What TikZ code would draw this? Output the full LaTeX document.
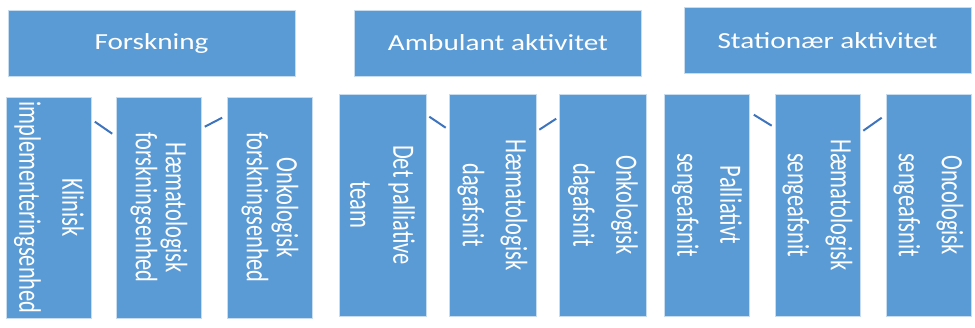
\documentclass[tikz,border=0pt]{standalone}
\usepackage{fontspec}
\usetikzlibrary{calc}
\newfontfamily\headfont[FakeStretch=1.27]{Carlito}
\newfontfamily\unitfont[FakeStretch=0.725]{Carlito}
\definecolor{boxblue}{RGB}{91,155,213}
\definecolor{edgeblue}{RGB}{200,220,240}
\definecolor{linkblue}{RGB}{62,116,189}
\tikzset{
  head/.style={draw=edgeblue, fill=boxblue, text=white, line width=0.6pt,
    minimum width=287pt, minimum height=66pt, inner sep=0pt,
    font=\headfont\fontsize{23pt}{28pt}\selectfont},
  unit/.style={draw=edgeblue, fill=boxblue, line width=0.6pt,
    minimum width=85pt, minimum height=222pt, inner sep=0pt},
  unittext/.style={text=white, rotate=-90, align=center, inner sep=0pt,
    font=\unitfont\fontsize{31pt}{43pt}\selectfont},
  unittight/.style={unittext, font=\unitfont\fontsize{31pt}{30pt}\selectfont},
  link/.style={draw=linkblue, line width=2pt}
}
\begin{document}
\begin{tikzpicture}[x=1pt,y=-1pt]
\useasboundingbox (0,0) rectangle (975,327);
% headers
\node [head] (forsk) at (151.5,43) {Forskning};
\node [head] (amb) at (498,43) {Ambulant aktivitet};
\node [head] (stat) at (827.5,40.5) {Stationær aktivitet};
% forskning
\node [unit, minimum height=221pt] (k1) at (49,207.5) {};
\node [unit, minimum height=221pt] (k2) at (159,207.5) {};
\node [unit, minimum height=221pt] (k3) at (270,207.5) {};
\node [unittext] (k1t) at (k1) {Klinisk\\implementeringsenhed};
\node [unittight] (k2t) at (k2) {Hæmatologisk\\forskningsenhed};
\node [unittight] (k3t) at (k3) {Onkologisk\\forskningsenhed};
% ambulant
\node [unit, minimum width=87pt] (a1) at (382.5,205) {};
\node [unit, minimum width=87pt] (a2) at (492.5,205) {};
\node [unit, minimum width=87pt] (a3) at (603,205) {};
\node [unittext] (a1t) at (a1) {Det palliative\\team};
\node [unittext] (a2t) at (a2) {Hæmatologisk\\dagafsnit};
\node [unittext] (a3t) at (a3) {Onkologisk\\dagafsnit};
% stationaer
\node [unit] (s1) at (707,205) {};
\node [unit] (s2) at (817.5,205) {};
\node [unit] (s3) at (928.5,205) {};
\node [unittext] (s1t) at (s1) {Palliativt\\sengeafsnit};
\node [unittext] (s2t) at (s2) {Hæmatologisk\\sengeafsnit};
\node [unittext] (s3t) at (s3) {Oncologisk\\sengeafsnit};
% links between units
\draw [link] ($(k1.north east)+(3,25)$) -- ($(k2.north west)+(-4,37)$);
\draw [link] ($(k2.north east)+(3,30)$) -- ($(k3.north west)+(-5,21)$);
\draw [link] ($(a1.north east)+(3,23)$) -- ($(a2.north west)+(-3,34)$);
\draw [link] ($(a2.north east)+(3,36)$) -- ($(a3.north west)+(-3,25)$);
\draw [link] ($(s1.north east)+(4,21)$) -- ($(s2.north west)+(-3,32)$);
\draw [link] ($(s2.north east)+(3,37)$) -- ($(s3.north west)+(-4,24)$);
\end{tikzpicture}
\end{document}
